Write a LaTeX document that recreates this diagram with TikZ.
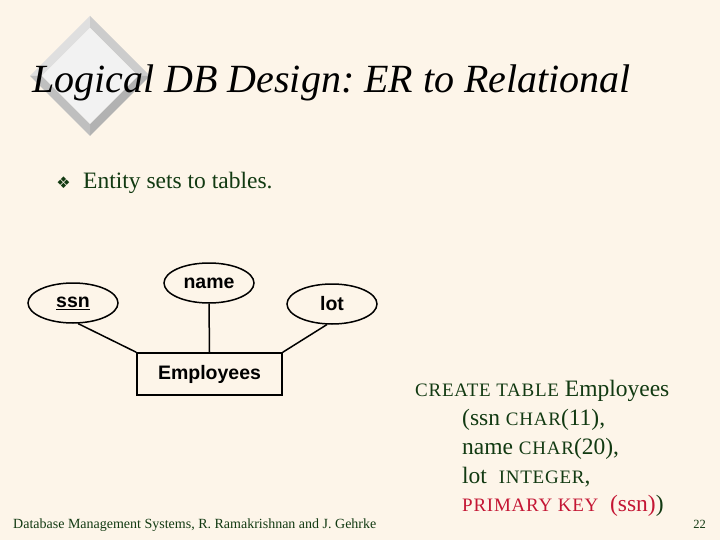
\documentclass[tikz,border=0pt]{standalone}
\usepackage{fontspec}
\setmainfont{Liberation Serif}
\setsansfont{Liberation Sans}
\newfontfamily\symfont{DejaVu Sans}
\newfontfamily\capsfont[LetterSpace=4]{Liberation Serif}
\usetikzlibrary{shapes.geometric}

\definecolor{bgcream}{RGB}{253,245,233}
\definecolor{darkgreen}{RGB}{18,58,18}
\definecolor{keyred}{RGB}{196,22,52}
\def\gross{\fontsize{23.5}{23.5}\selectfont}
\def\klein#1{{\capsfont\fontsize{19}{19}\selectfont #1}}

\begin{document}
\frenchspacing
\begin{tikzpicture}[x=1pt,y=-1pt,
	attr/.style={ellipse,draw,line width=1.5pt,minimum width=90pt,
		minimum height=40pt,inner sep=0pt,
		font=\sffamily\bfseries\fontsize{19.5}{19.5}\selectfont},
	entity/.style={rectangle,draw,line width=1.5pt,minimum width=145pt,
		minimum height=42pt,inner sep=0pt,
		font=\sffamily\bfseries\fontsize{19.5}{19.5}\selectfont},
	sql/.style={anchor=base west,inner sep=0pt,text=darkgreen,font=\gross}]

\fill[bgcream] (0,0) rectangle (720,540);
\useasboundingbox (0,0) rectangle (720,540);

% raute
\fill[gray!25] (90,16) -- (30,76) -- (42,76) -- (90,28) -- cycle;
\fill[gray!40] (90,16) -- (150,76) -- (138,76) -- (90,28) -- cycle;
\fill[gray!60] (150,76) -- (90,136) -- (90,124) -- (138,76) -- cycle;
\fill[gray!50] (30,76) -- (90,136) -- (90,124) -- (42,76) -- cycle;
\fill[gray!10] (90,28) -- (138,76) -- (90,124) -- (42,76) -- cycle;

\node[anchor=base west,inner sep=0pt,font=\fontsize{40}{40}\selectfont\itshape]
	(titel) at (32,93) {Logical DB Design: ER to Relational};

\node[inner sep=0pt,text=darkgreen,font=\symfont\fontsize{16}{16}\selectfont]
	(punkt) at (63.5,183) {❖};
\node[anchor=base west,inner sep=0pt,text=darkgreen,font=\fontsize{23.5}{23.5}\selectfont]
	(bullet) at (83,189) {Entity sets to tables.};

% ER diagramm
\node[attr] (ssn) at (73,303) {\underline{ssn}};
\node[attr] (name) at (209,283) {name};
\node[attr] (lot) at (332,304) {lot};
\node[entity] (emp) at (209.5,374) {Employees};

\draw[line width=1.5pt] (ssn.-76) -- (emp.north west);
\draw[line width=1.5pt] (name.south) -- (emp.north);
\draw[line width=1.5pt] (lot.-104) -- (emp.north east);

% sql
\node[sql] (create) at (415,396) {\klein{CREATE TABLE} Employees};
\node[sql] (zssn) at (462,425) {(ssn \klein{CHAR}(11),};
\node[sql] (zname) at (462,454) {name \klein{CHAR}(20),};
\node[sql] (zlot) at (462,483) {lot\ \ \klein{INTEGER},};
\node[sql] (zkey) at (462,511) {\textcolor{keyred}{\klein{PRIMARY KEY}\ \ (ssn)})};

\node[anchor=base west,inner sep=0pt,text=darkgreen,font=\fontsize{14}{14}\selectfont]
	(fuss) at (13,528) {Database Management Systems, R. Ramakrishnan and J. Gehrke};
\node[anchor=base east,inner sep=0pt,text=darkgreen,font=\fontsize{12.5}{12.5}\selectfont]
	(seite) at (706,528) {22};

\end{tikzpicture}
\end{document}
